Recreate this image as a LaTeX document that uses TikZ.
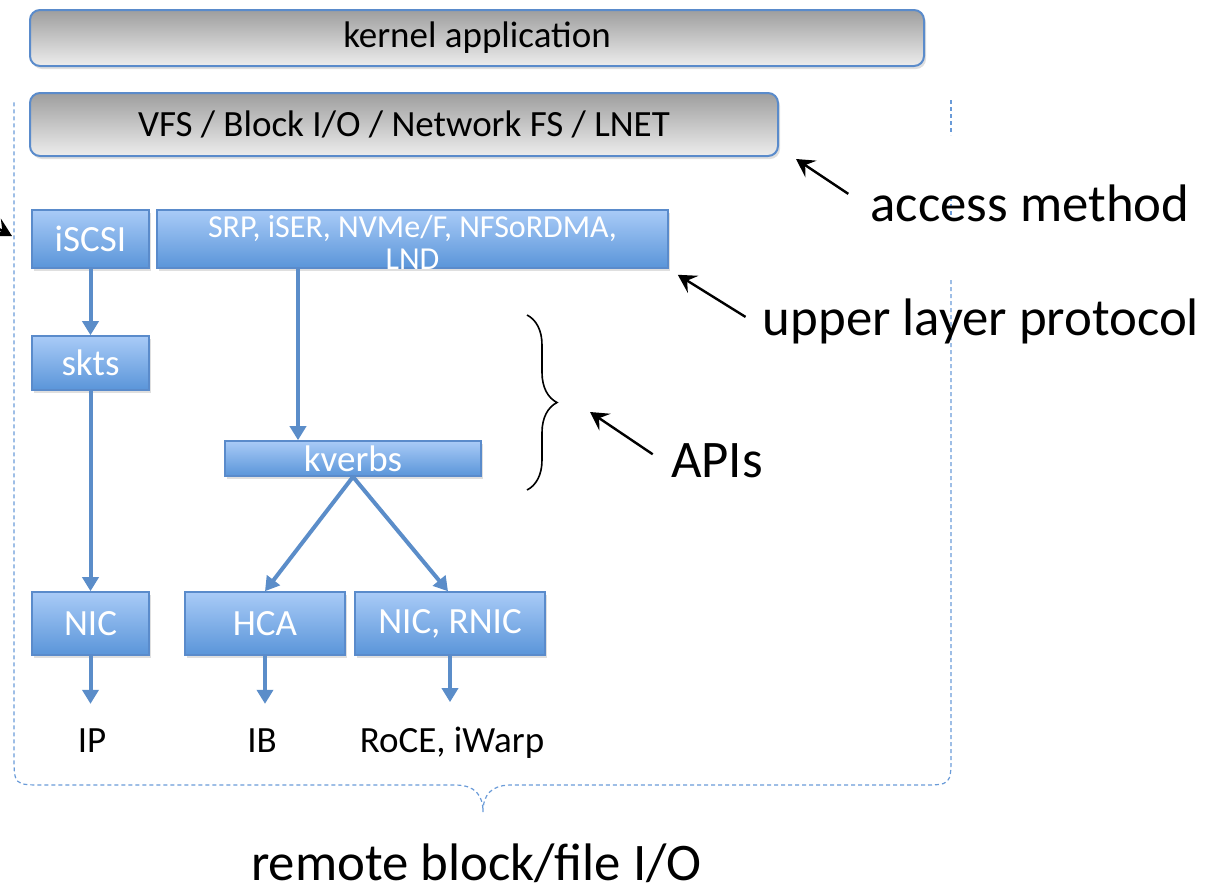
\documentclass[tikz,border=0pt]{standalone}
\usepackage{fontspec}
\setmainfont{Carlito}
\usetikzlibrary{arrows.meta,shadows,decorations.pathreplacing,positioning}
\definecolor{boxline}{HTML}{5A8BCB}
\definecolor{boxtop}{HTML}{A9CBF7}
\definecolor{boxbot}{HTML}{5A95D9}
\definecolor{arrblue}{HTML}{5B8DC9}
\definecolor{dotblue}{HTML}{6A9BD8}
\newcommand{\bigfont}{\fontsize{26.4}{31}\selectfont}
\newcommand{\midfont}{\fontsize{18.5}{22}\selectfont}
\newcommand{\smallfont}{\fontsize{16}{16}\selectfont}

\begin{document}
\begin{tikzpicture}[x=0.5pt,y=-0.5pt,
    boxshadow/.style={drop shadow={opacity=0.25,shadow xshift=1pt,shadow yshift=-1.5pt}},
    graybox/.style={draw=boxline,line width=1pt,rounded corners=5pt,top color=black!38,bottom color=black!7,
      inner sep=0pt,font=\midfont,boxshadow},
    bluebox/.style={draw=boxline,line width=0.8pt,top color=boxtop,bottom color=boxbot,text=white,
      inner sep=0pt,font=\midfont,boxshadow},
    ulptext/.style={font=\smallfont,text=white,align=center,inner sep=0pt},
    bluearrow/.style={arrblue,line width=2pt,-{Triangle[width=8pt,length=7pt]}},
    blkarrow/.style={line width=1.2pt,-{Stealth[length=9pt,width=10pt,inset=3.5pt]}},
    dotline/.style={dotblue,line width=0.6pt,dash pattern=on 2pt off 1.5pt},
    note/.style={font=\bigfont,inner sep=2pt,anchor=base},
    medium/.style={font=\midfont,inner sep=2pt,anchor=base}]
  \clip (0,0) rectangle (1213,895);
  \node[graybox,minimum width=447pt,minimum height=28pt] (kapp) at (477,38) {kernel application};
  \node[graybox,minimum width=374pt,minimum height=31.5pt] (vfs) at (404,124.5) {VFS / Block I/O / Network FS / LNET};
  \node[bluebox,minimum width=58.5pt,minimum height=29pt] (iscsi) at (90.5,239) {iSCSI};
  \node[bluebox,minimum width=255.5pt,minimum height=29pt,
    label={[ulptext,yshift=-1.5pt]center:{SRP, iSER, NVMe/F, NFSoRDMA,\\LND}}] (ulp) at (412.5,239) {};
  \node[bluebox,minimum width=58.5pt,minimum height=27pt] (skts) at (90.5,363) {skts};
  \node[bluebox,minimum width=128pt,minimum height=17.5pt] (kverbs) at (353,458.5) {kverbs};
  \node[bluebox,minimum width=58.5pt,minimum height=31.5pt] (nic) at (90.5,623.5) {NIC};
  \node[bluebox,minimum width=80pt,minimum height=31.5pt] (hca) at (265,623.5) {HCA};
  \node[bluebox,minimum width=95pt,minimum height=31.5pt] (rnic) at (450,623.5) {NIC, RNIC};
  \node[medium] (ip) at (92,752) {IP};
  \node[medium] (ib) at (262,752) {IB};
  \node[medium] (roce) at (452,752) {RoCE, iWarp};
  \coordinate (kin) at ([xshift=-27.5pt]kverbs.north);
  \draw[bluearrow] (iscsi) -- (skts);
  \draw[bluearrow] (skts) -- (nic);
  \draw[bluearrow] (ulp.south -| kin) -- (kin);
  \draw[bluearrow] (kverbs.south) -- (hca.north);
  \draw[bluearrow] (kverbs.south) -- ([xshift=-1pt]rnic.north);
  \draw[bluearrow,shorten >=10pt] (nic) -- (nic |- ip.north);
  \draw[bluearrow,shorten >=10pt] (hca) -- (hca |- ib.north);
  \draw[bluearrow,shorten >=10pt] (rnic) -- (rnic |- roce.north);
  \draw[dotline] (951,280) -- (951,755) .. controls (951,785) .. (921,785) -- (511,785)
    .. controls (491,785) and (483,795) .. (483,812)
    .. controls (483,795) and (475,785) .. (455,785) -- (44,785)
    .. controls (14,785) .. (14,755) -- (14,100);
  \draw[dotline] (951,100) -- (951,135) (951,197) -- (951,220);
  \draw[decorate,decoration={brace,amplitude=15pt},line width=0.8pt] (527,315) -- (527,490);
  \node[note] (acc) at (1030,221) {access method};
  \node[note] (ulpl) at (981,335) {upper layer protocol};
  \node[note] (apil) at (717,477) {APIs};
  \node[note] (rbf) at (476.5,880) {remote block/file I/O};
  \coordinate (apitip) at (590,412);
  \coordinate (offl) at (-40,208);
  \coordinate (iscin) at (12,236);
  \draw[blkarrow] ([xshift=-9pt,yshift=4.5pt]acc.west) -- ([xshift=8.5pt,yshift=-1pt]vfs.south east);
  \draw[blkarrow] ([xshift=-6.5pt,yshift=2pt]ulpl.west) -- ([xshift=4.5pt,yshift=-3pt]ulp.south east);
  \draw[blkarrow] ([xshift=-7pt,yshift=3pt]apil.west) -- (apitip);
  \draw[blkarrow] (offl) -- (iscin);
\end{tikzpicture}
\end{document}
